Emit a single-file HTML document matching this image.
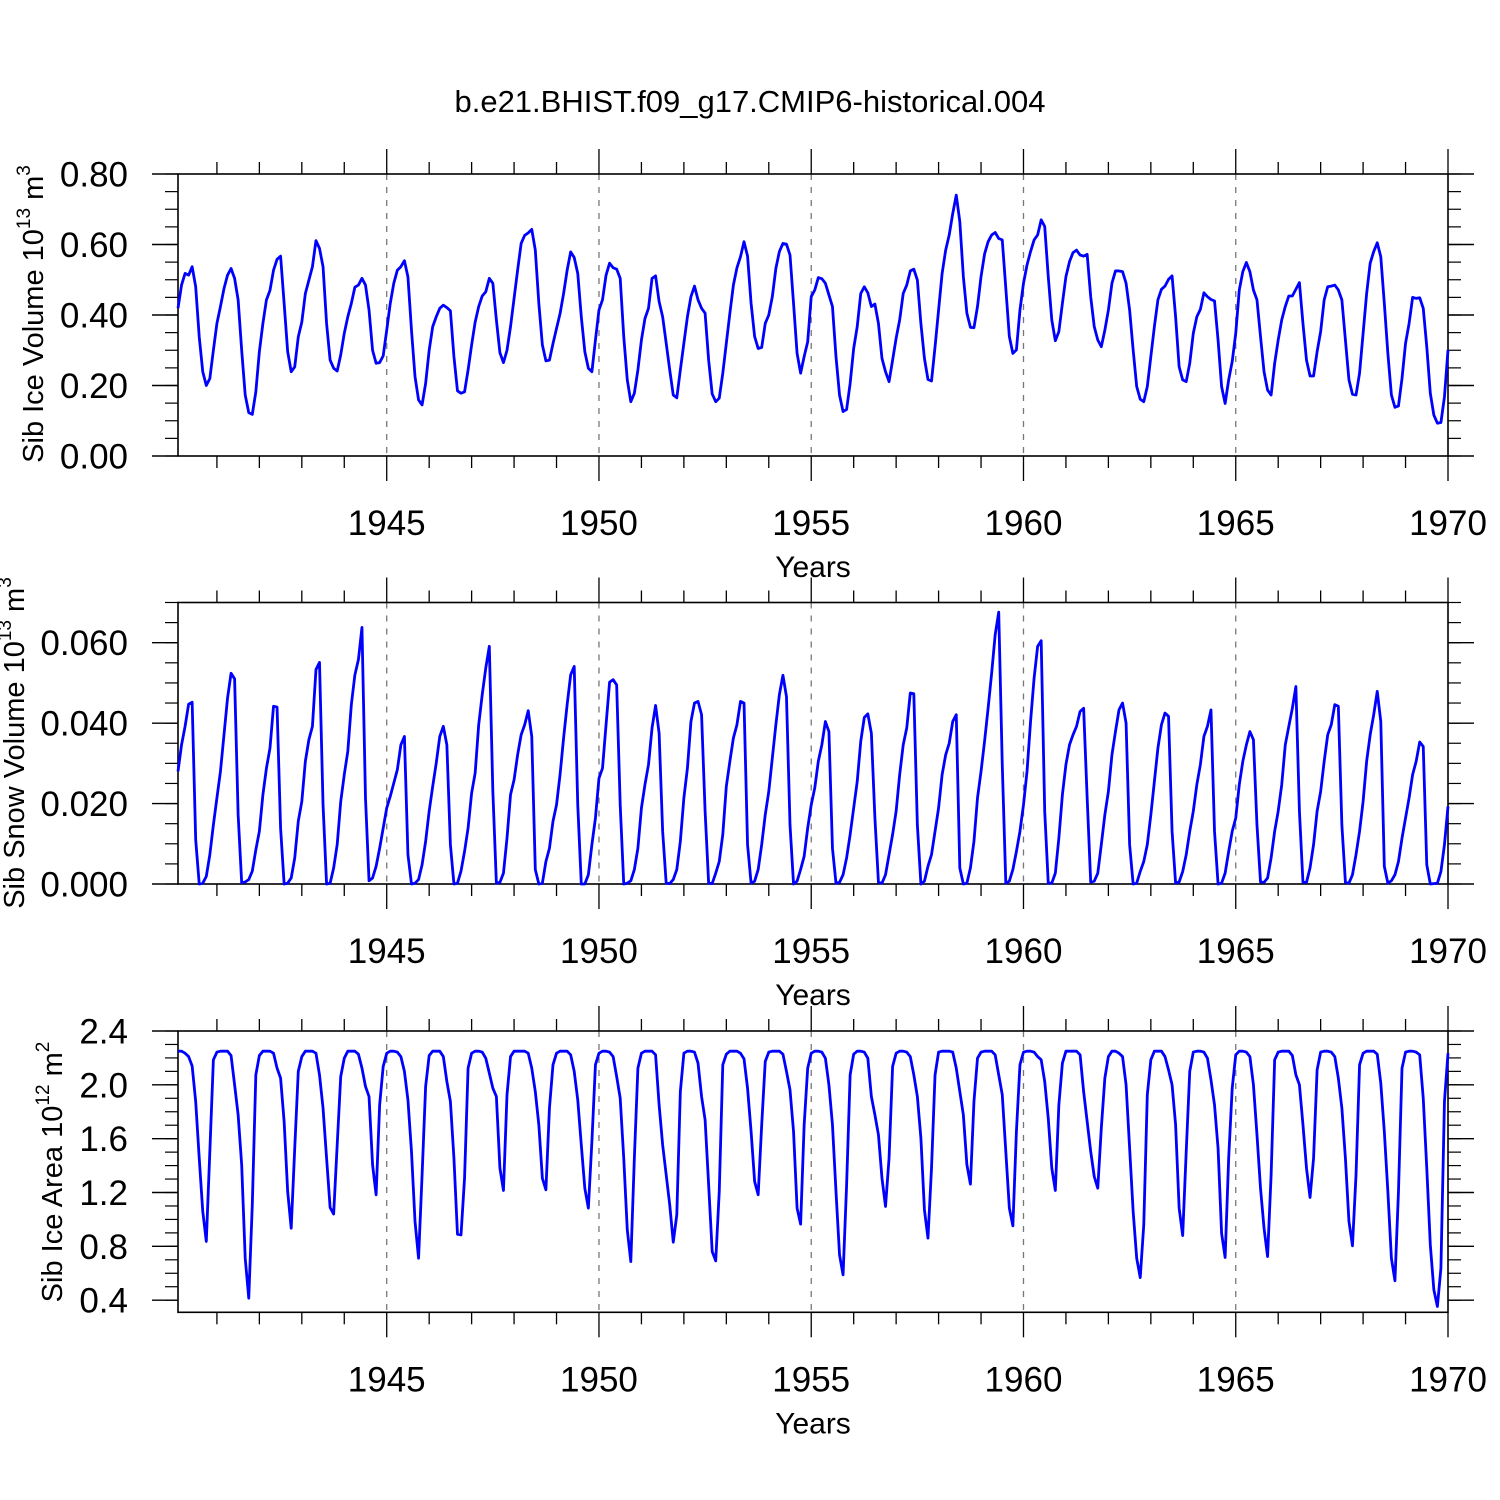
<!DOCTYPE html>
<html><head><meta charset="utf-8"><title>Sib ice chart</title>
<style>html,body{margin:0;padding:0;background:#fff}svg{display:block}</style></head>
<body>
<svg id="chart" xmlns="http://www.w3.org/2000/svg" width="1500" height="1500" viewBox="0 0 1500 1500" font-family="'Liberation Sans', Arial, sans-serif">
<rect x="0" y="0" width="1500" height="1500" fill="#fff"/>
<text x="750" y="112" font-size="31" text-anchor="middle">b.e21.BHIST.f09_g17.CMIP6-historical.004</text>
</svg>
<script>
const iceVolume = [
.419,.485,.518,.513,.537,.48,.338,.239,.2,.22,.30,.376,
.424,.475,.513,.532,.504,.443,.30,.173,.123,.118,.182,.296,
.376,.443,.47,.527,.558,.567,.433,.296,.239,.253,.338,.38,
.461,.499,.537,.611,.589,.537,.376,.272,.249,.241,.287,.348,
.395,.433,.479,.485,.504,.485,.414,.30,.263,.265,.284,.357,
.433,.49,.527,.537,.554,.508,.357,.225,.159,.145,.206,.30,
.367,.395,.419,.428,.421,.412,.282,.185,.178,.182,.244,.315,
.38,.424,.454,.466,.504,.49,.386,.293,.265,.30,.367,.447,
.527,.603,.626,.633,.643,.584,.433,.315,.27,.272,.319,.362,
.404,.461,.527,.579,.563,.518,.395,.296,.249,.239,.329,.414,
.443,.513,.547,.534,.53,.504,.339,.216,.154,.178,.244,.329,
.39,.419,.504,.511,.438,.395,.32,.244,.173,.165,.244,.32,
.395,.452,.482,.443,.419,.405,.272,.176,.154,.164,.235,.32,
.405,.485,.534,.565,.608,.567,.433,.339,.305,.308,.376,.4,
.452,.532,.58,.603,.601,.57,.433,.291,.235,.282,.324,.452,
.471,.506,.503,.49,.457,.424,.282,.173,.126,.132,.206,.305,
.367,.461,.48,.463,.424,.431,.376,.277,.239,.211,.272,.334,
.386,.461,.485,.525,.53,.499,.376,.277,.217,.213,.31,.414,
.518,.584,.627,.688,.74,.665,.509,.405,.365,.364,.424,.509,
.573,.608,.627,.634,.617,.613,.476,.339,.291,.301,.414,.49,
.542,.58,.613,.627,.67,.651,.509,.386,.327,.353,.433,.509,
.551,.577,.584,.57,.567,.572,.452,.367,.329,.31,.357,.414,
.49,.525,.525,.523,.49,.414,.301,.197,.161,.154,.197,.282,
.367,.443,.473,.482,.501,.511,.395,.253,.216,.211,.263,.348,
.395,.416,.463,.452,.444,.44,.329,.197,.149,.216,.268,.348,
.471,.523,.549,.523,.471,.443,.339,.239,.187,.173,.263,.329,
.386,.424,.454,.454,.473,.492,.376,.272,.227,.227,.296,.353,
.443,.48,.482,.485,.471,.443,.329,.216,.175,.173,.235,.348,
.461,.547,.58,.605,.565,.433,.291,.173,.138,.142,.22,.32,
.376,.45,.447,.449,.419,.31,.178,.116,.093,.095,.168,.301];

// snow volume in units of 0.001 x 10^13 m^3
const snowVolumeMilli = [
28,34.6,39.2,44.7,45.2,11,0,0.2,1.9,7.3,14.7,21.4,
28,37.1,46.2,52.4,51,17.2,0.3,0.5,1.1,3.2,8.5,13.1,
22.2,28.8,33.8,44.2,44,13.9,0,0.2,1.5,6.5,15.6,20.5,
30.5,35.9,39.2,53.3,55.1,19.7,0,0.2,4,9.8,20.5,27.2,
33,44.6,52,55.8,63.8,21.4,0.8,1.5,4.4,8.9,13.9,18.9,
21.8,25.1,28.4,34.6,36.7,7.3,0,0.2,1.1,4.8,10.6,18.1,
24.3,30.1,36.7,39.2,34.6,9.8,0,0.2,3.2,8.1,13.9,22.6,
27.6,39.6,47.1,53.7,59.1,23,0.2,0.4,2.7,11.4,22.2,25.9,
32.1,37.1,39.6,43.1,36.7,3.6,0,0.2,5.6,8.9,15.6,19.7,
27.2,36.3,44.6,52,54.1,19.7,0,0,2.3,9.8,16.4,26.3,
28.8,39.6,50.2,50.8,49.5,19.7,0,0.2,0.8,3.6,8.9,18.9,
24.7,29.7,38.8,44.4,37.5,13.1,0.2,0.1,1.1,3.6,10.6,21.4,
28.8,40.4,45,45.4,42.1,18.1,0.2,0.1,2.7,5.6,12.3,24.3,
30.5,36.3,39.6,45.4,45,9.8,0.2,0.7,3.6,9.8,17.2,23,
31.3,39.6,47.1,51.9,46.6,14.7,0,0.7,3.6,6.9,13.9,19.7,
23.9,30.5,34.6,40.4,37.9,8.9,0.2,0.4,2.3,6.5,12.3,18.9,
25.5,35.5,41.4,42.3,37.5,16.4,0.4,0.2,2.3,7.3,12.3,18.1,
27.2,34.6,38.8,47.5,47.3,14.7,0,0.7,4.4,7.3,13.1,18.9,
27.2,32.1,35,40.4,42.1,4,0,0.2,4,10.6,21.4,28,
35.5,43.7,52.4,62,67.6,29.7,0.2,0.7,3.6,8.1,13.1,19.7,
28,40.4,51.2,59.1,60.5,18.1,0.2,0.2,2.7,11.4,22.2,29.7,
34.6,37.1,39.2,42.9,43.7,21.4,0.5,0.7,2.7,9.8,17.2,23,
32.1,37.9,43.3,45,40,9.8,0,0.2,3.1,5.6,9.8,17.2,
25.5,33.8,39.6,42.5,41.7,13.1,0.2,0.5,3.1,7.3,13.1,18.1,
24.7,29.7,36.7,39.2,43.3,13.1,0,0.2,2.7,8.1,13.1,16.4,
24.7,30.5,34.6,37.9,35.9,14.7,0.5,0.4,1.5,6.5,13.1,18.1,
24.7,34.6,39.2,43.7,49.1,18.1,0.4,0.4,4,9.8,18.1,23,
30.5,37.1,39.6,44.6,44.2,14.7,0.4,0.2,2.3,7.3,13.1,20.5,
30.5,37.1,42.1,47.9,40.4,4.4,0.2,0.8,2.3,5.6,11.4,16.4,
21.4,27.2,30.5,35.3,34.2,4.8,0,0.1,0.2,3.1,9.8,19.3];

const iceArea = [
2.25,2.25,2.235,2.21,2.14,1.876,1.455,1.06,.836,1.505,2.186,2.243,
2.25,2.25,2.25,2.218,2.0,1.777,1.406,.712,.415,1.108,2.074,2.218,
2.25,2.25,2.25,2.235,2.124,2.05,1.727,1.207,.935,1.53,2.1,2.21,
2.25,2.25,2.25,2.235,2.074,1.827,1.455,1.088,1.04,1.554,2.062,2.198,
2.25,2.25,2.25,2.228,2.124,1.988,1.913,1.406,1.183,1.85,2.136,2.235,
2.25,2.25,2.243,2.21,2.1,1.888,1.505,.985,.712,1.331,1.988,2.218,
2.25,2.25,2.25,2.21,2.025,1.876,1.455,.89,.885,1.306,2.124,2.235,
2.25,2.25,2.243,2.198,2.087,1.975,1.913,1.381,1.215,1.926,2.21,2.25,
2.25,2.25,2.25,2.235,2.124,1.95,1.703,1.306,1.22,1.827,2.149,2.235,
2.25,2.25,2.25,2.223,2.1,1.888,1.554,1.232,1.084,1.579,2.149,2.235,
2.25,2.25,2.243,2.21,2.062,1.901,1.455,.923,.687,1.455,2.124,2.235,
2.25,2.25,2.25,2.223,1.851,1.554,1.331,1.108,.831,1.034,1.95,2.235,
2.25,2.25,2.243,2.161,1.913,1.74,1.257,.762,.692,1.207,2.149,2.228,
2.25,2.25,2.25,2.235,2.193,1.975,1.653,1.282,1.183,1.703,2.173,2.243,
2.25,2.25,2.25,2.228,2.1,1.963,1.653,1.084,.965,1.703,2.124,2.235,
2.25,2.25,2.243,2.198,2.0,1.703,1.207,.737,.588,1.257,2.074,2.228,
2.25,2.25,2.243,2.198,1.913,1.777,1.628,1.306,1.096,1.455,2.136,2.235,
2.25,2.25,2.243,2.21,2.074,1.913,1.604,1.071,.861,1.381,2.074,2.243,
2.25,2.25,2.25,2.243,2.124,1.95,1.777,1.406,1.262,1.876,2.198,2.243,
2.25,2.25,2.25,2.223,2.074,1.926,1.505,1.084,.952,1.653,2.149,2.243,
2.25,2.25,2.243,2.21,2.186,2.025,1.752,1.381,1.215,1.851,2.161,2.25,
2.25,2.25,2.25,2.223,1.95,1.727,1.505,1.319,1.232,1.678,2.05,2.21,
2.25,2.25,2.235,2.21,2.0,1.529,1.059,.712,.568,.96,1.926,2.186,
2.25,2.25,2.25,2.21,2.111,2.0,1.703,1.084,.88,1.505,2.1,2.243,
2.25,2.25,2.243,2.198,2.037,1.851,1.529,.898,.717,1.455,1.975,2.223,
2.25,2.25,2.243,2.21,2.0,1.629,1.232,.935,.724,1.331,2.186,2.243,
2.25,2.25,2.25,2.218,2.074,2.0,1.703,1.381,1.163,1.455,2.111,2.243,
2.25,2.25,2.243,2.21,2.05,1.827,1.455,.985,.804,1.331,2.149,2.235,
2.25,2.25,2.25,2.228,2.012,1.653,1.207,.712,.544,1.207,2.124,2.243,
2.25,2.25,2.243,2.223,1.901,1.381,.811,.477,.353,.638,1.876,2.235];

const startYear = 1940;
const yearTickValues = [1945, 1950, 1955, 1960, 1965, 1970];
const yearTickLabels = ["1945", "1950", "1955", "1960", "1965", "1970"];
const iceVolTicks = [0, 0.2, 0.4, 0.6, 0.8];
const iceVolTickLabels = ["0.00", "0.20", "0.40", "0.60", "0.80"];
const snowVolTicks = [0, 20, 40, 60];
const snowVolTickLabels = ["0.000", "0.020", "0.040", "0.060"];
const iceAreaTicks = [0.4, 0.8, 1.2, 1.6, 2.0, 2.4];
const iceAreaTickLabels = ["0.4", "0.8", "1.2", "1.6", "2.0", "2.4"];

const NS = "http://www.w3.org/2000/svg";
const svg = document.getElementById("chart");
const X0 = 178, X1 = 1448;
const T0 = startYear + 1/12, T1 = startYear + iceVolume.length/12;
function xScale(t){ return X0 + (t - T0)/(T1 - T0)*(X1 - X0); }
function mk(tag, attrs, parent){
  const e = document.createElementNS(NS, tag);
  for (const k in attrs) e.setAttribute(k, attrs[k]);
  (parent || svg).appendChild(e);
  return e;
}

function drawPanel(cfg){
  const g = mk("g", {});
  
  
  const yScale = v => cfg.bottom - (v - cfg.ymin)/(cfg.ymax - cfg.ymin)*(cfg.bottom - cfg.top);
  yearTickValues.forEach(yr => {
    if (yr >= T1 - 0.01) return;
    const x = xScale(yr);
    const l = mk("line", {x1:x, x2:x, y1:cfg.top, y2:cfg.bottom, stroke:"#777", "stroke-width":1.3, "stroke-dasharray":"6,7"}, g);
    
    
  });
  for (let yr = startYear + 1; yr <= 1970; yr++){
    const x = xScale(yr);
    const major = yearTickValues.indexOf(yr) >= 0;
    const L = major ? 25 : 12;
    mk("line", {x1:x, x2:x, y1:cfg.bottom, y2:cfg.bottom + L, stroke:"#000", "stroke-width":1.3}, g);
    mk("line", {x1:x, x2:x, y1:cfg.top, y2:cfg.top - L, stroke:"#000", "stroke-width":1.3}, g);
  }
  yearTickValues.forEach((yr, i) => {
    const t = mk("text", {x:xScale(yr), y:cfg.bottom + 79, "font-size":35, "text-anchor":"middle"}, g);
    
    
    t.textContent = yearTickLabels[i];
  });
  const xt = mk("text", {x:813, y:cfg.bottom + 121, "font-size":30, "text-anchor":"middle"}, g);
  
  
  xt.textContent = "Years";
  for (let v = cfg.minorStart; v <= cfg.ymax + 1e-9; v += cfg.minorStep){
    const y = yScale(v);
    mk("line", {x1:X0 - 13, x2:X0, y1:y, y2:y, stroke:"#000", "stroke-width":1.2}, g);
    mk("line", {x1:X1, x2:X1 + 13, y1:y, y2:y, stroke:"#000", "stroke-width":1.2}, g);
  }
  cfg.ticks.forEach((v, i) => {
    const y = yScale(v);
    mk("line", {x1:X0 - 26, x2:X0, y1:y, y2:y, stroke:"#000", "stroke-width":1.4}, g);
    mk("line", {x1:X1, x2:X1 + 26, y1:y, y2:y, stroke:"#000", "stroke-width":1.4}, g);
    const t = mk("text", {x:128, y:y + 12.5, "font-size":35, "text-anchor":"end"}, g);
    
    
    t.textContent = cfg.tickLabels[i];
  });
  const fr = mk("rect", {x:X0, y:cfg.top, width:X1 - X0, height:cfg.bottom - cfg.top, fill:"none", stroke:"#000", "stroke-width":1.6}, g);
  
  
  const yt = mk("text", {transform:`translate(${cfg.titleX},${cfg.titleY}) rotate(-90)`, "font-size":29, "text-anchor":"middle"}, g);
  
  
  yt.appendChild(document.createTextNode(cfg.title + " 10"));
  const s1 = mk("tspan", {dy:-13, "font-size":19}, yt); s1.textContent = cfg.exp;
  const s2 = mk("tspan", {dy:13}, yt); s2.textContent = " m";
  const s3 = mk("tspan", {dy:-13, "font-size":19}, yt); s3.textContent = cfg.unitExp;
  let d = "";
  cfg.values.forEach((v, i) => {
    const t = startYear + (i + 1)/12;
    d += (i ? "L" : "M") + xScale(t).toFixed(2) + "," + yScale(v).toFixed(2);
  });
  const p = mk("path", {d:d, fill:"none", stroke:"#0000ff", "stroke-width":2.8, "stroke-linejoin":"round"}, g);
  
  
}

drawPanel({name:"ice-volume-panel", top:174, bottom:456, ymin:0, ymax:0.8, ticks:iceVolTicks, tickLabels:iceVolTickLabels,
  minorStart:0, minorStep:0.05, values:iceVolume, title:"Sib Ice Volume", exp:"13", unitExp:"3", titleX:43, titleY:314});
drawPanel({name:"snow-volume-panel", top:602.5, bottom:884, ymin:0, ymax:70, ticks:snowVolTicks, tickLabels:snowVolTickLabels,
  minorStart:0, minorStep:5, values:snowVolumeMilli, title:"Sib Snow Volume", exp:"13", unitExp:"3", titleX:24, titleY:743});
drawPanel({name:"ice-area-panel", top:1031, bottom:1312.3, ymin:0.31, ymax:2.4, ticks:iceAreaTicks, tickLabels:iceAreaTickLabels,
  minorStart:0.4, minorStep:0.1, values:iceArea, title:"Sib Ice Area", exp:"12", unitExp:"2", titleX:62, titleY:1172});
</script>
</body></html>
